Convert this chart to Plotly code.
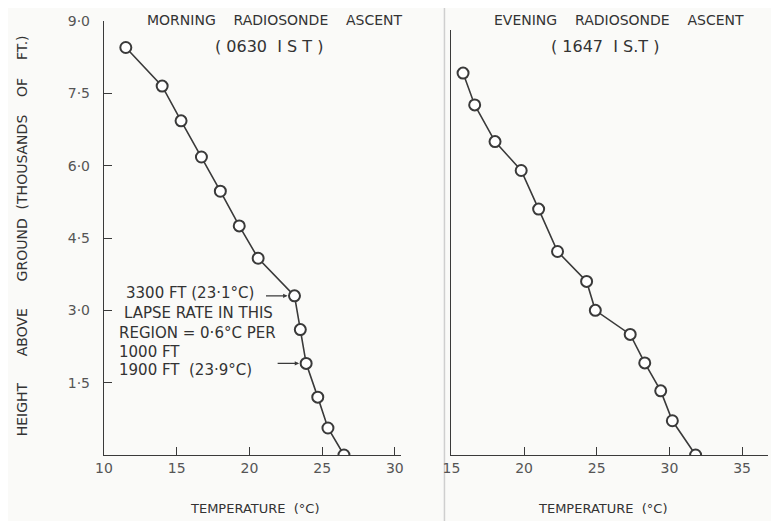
import plotly.graph_objects as go

# ---- data ----
morning_temp = [11.5, 14.0, 15.3, 16.7, 18.0, 19.3, 20.6, 23.1, 23.5, 23.9, 24.7, 25.4, 26.5]
morning_height = [8.45, 7.65, 6.93, 6.18, 5.47, 4.75, 4.08, 3.3, 2.6, 1.9, 1.2, 0.56, 0.0]
evening_temp = [15.8, 16.6, 18.0, 19.8, 21.0, 22.3, 24.3, 24.9, 27.3, 28.3, 29.4, 30.2, 31.8]
evening_height = [7.92, 7.26, 6.5, 5.9, 5.1, 4.22, 3.6, 3.0, 2.5, 1.91, 1.33, 0.71, 0.0]
y_ticks = [1.5, 3.0, 4.5, 6.0, 7.5, 9.0]
y_ticktext = ["1·5", "3·0", "4·5", "6·0", "7·5", "9·0"]
x1_ticks = [10, 15, 20, 25, 30]
x2_ticks = [15, 20, 25, 30, 35]

# page body adds an 8px margin on every side
OFF = 8
W, H = 779 - 2 * OFF, 521 - OFF
ML, MR, MT = 104 - OFF, 0, 21 - OFF
MB = H - (455 - OFF)
PW, PH = W - ML - MR, H - MT - MB
def px(x):  # reference-pixel x -> paper
    return (x - OFF - ML) / PW
def py(y):  # reference-pixel y -> paper
    return (H - MB - (y - OFF)) / PH

INK = "#3a3a3a"
FONT = "DejaVu Sans"

fig = go.Figure()
common = dict(mode="lines+markers",
              line=dict(color=INK, width=1.6),
              marker=dict(symbol="circle", size=11, color="white",
                          line=dict(color=INK, width=2)),
              showlegend=False, hoverinfo="x+y")
fig.add_trace(go.Scatter(x=morning_temp, y=morning_height, xaxis="x", yaxis="y", **common))
fig.add_trace(go.Scatter(x=evening_temp, y=evening_height, xaxis="x2", yaxis="y2", **common))

axis_common = dict(showgrid=False, zeroline=False, showline=True, linecolor=INK, linewidth=1.4,
                   ticks="inside", ticklen=8, tickcolor=INK, tickwidth=1.2,
                   tickfont=dict(family=FONT, size=14, color="#555"))

fig.update_layout(
    width=W, height=H,
    margin=dict(l=ML, r=MR, t=MT, b=MB),
    paper_bgcolor="#fafaf8", plot_bgcolor="rgba(0,0,0,0)",
    font=dict(family=FONT, color=INK),
    xaxis=dict(domain=[0, px(402)], range=[10, 30.4], tickvals=x1_ticks,
               ticktext=[str(v) for v in x1_ticks], anchor="y", **axis_common),
    yaxis=dict(domain=[0, 1], range=[0, 9.0], tickvals=y_ticks, ticktext=y_ticktext,
               anchor="x", ticklabelstandoff=10, **axis_common),
    xaxis2=dict(domain=[px(453), 1], range=[15, 15 + (771 - 453) / 14.6], tickvals=x2_ticks,
                ticktext=[str(v) for v in x2_ticks], anchor="y2", **axis_common),
    yaxis2=dict(domain=[0, 0.98], range=[0, 9.0 * 0.98], anchor="x2", showgrid=False,
                zeroline=False, showline=True, linecolor=INK, linewidth=1.4,
                showticklabels=False, ticks=""),
)

def ann(text, x, y, size=11, xanchor="center", angle=0, color="#333"):
    fig.add_annotation(text=text, x=px(x), y=py(y), xref="paper", yref="paper",
                       showarrow=False, xanchor=xanchor, yanchor="middle",
                       textangle=angle, font=dict(family=FONT, size=size, color=color))

# titles
ann("MORNING    RADIOSONDE    ASCENT", 276, 20, 14)
ann("( 0630  I S T )", 270, 47, 16)
ann("EVENING    RADIOSONDE    ASCENT", 621, 20, 14)
ann("( 1647  I S.T )", 607, 47, 16)
# axis titles
ann("TEMPERATURE  (°C)", 256, 508, 13)
ann("TEMPERATURE  (°C)", 605, 508, 13)
ann("HEIGHT      ABOVE      GROUND  (THOUSANDS    OF    FT.)", 22, 236, 14, angle=-90)

# left-panel notes
ann("3300 FT (23·1°C)", 124, 293, 15, xanchor="left")
ann("LAPSE RATE IN THIS", 122, 313, 15, xanchor="left")
ann("REGION = 0·6°C PER", 117, 333, 15, xanchor="left")
ann("1000 FT", 117, 352, 15, xanchor="left")
ann("1900 FT  (23·9°C)", 117, 370, 15, xanchor="left")

for (xv, yv, dx) in [(23.1, 3.3, -30), (23.9, 1.9, -30)]:
    fig.add_annotation(x=xv, y=yv, xref="x", yref="y", ax=dx, ay=0, axref="pixel", ayref="pixel",
                       text="", showarrow=True, arrowhead=2, arrowsize=0.8, arrowwidth=1.1,
                       arrowcolor=INK, standoff=7)

# faint scan fold line between panels
fig.add_shape(type="line", xref="paper", yref="paper", x0=px(446), x1=px(446), y0=py(521), y1=py(8),
              line=dict(color="#cfcfcf", width=1.5), layer="below")

fig.write_html("out.html")
